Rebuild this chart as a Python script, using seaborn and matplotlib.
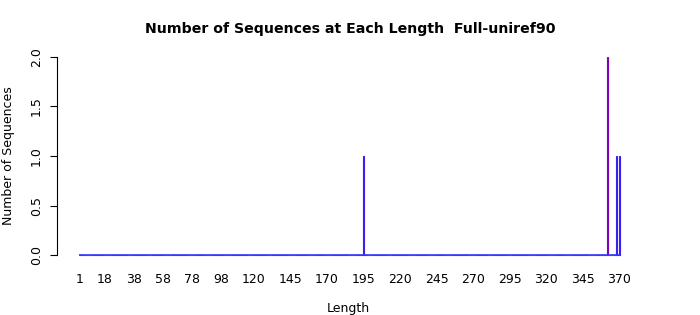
import matplotlib
matplotlib.use("Agg")
import matplotlib.pyplot as plt
import seaborn as sns
import pandas as pd

# ---- data ----
min_length = 1
max_length = 370
bar_lengths = [195, 362, 368, 370]
bar_counts = [1, 2, 1, 1]
tick_labels = [1, 18, 38, 58, 78, 98, 120, 145, 170, 195, 220, 245, 270, 295, 320, 345, 370]
title = "Number of Sequences at Each Length  Full-uniref90"

lengths = list(range(min_length, max_length + 1))
count_map = dict(zip(bar_lengths, bar_counts))
counts = [count_map.get(l, 0) for l in lengths]
df = pd.DataFrame({"Length": lengths, "Count": counts})
df["grp"] = df["Count"].map(lambda c: "two" if c >= 2 else "one")

sns.set_style("white")
plt.rcParams["font.family"] = ["DejaVu Sans"]
plt.rcParams["text.color"] = "black"
plt.rcParams["axes.labelcolor"] = "black"
plt.rcParams["xtick.color"] = "black"
plt.rcParams["ytick.color"] = "black"

fig = plt.figure(figsize=(7, 3.15), dpi=100)
ax = fig.add_axes([57 / 700, 52 / 315, (640 - 57) / 700, (266 - 52) / 315])

palette = {"one": "#3a1ff0", "two": "#8000b8"}
sns.barplot(data=df, x="Length", y="Count", hue="grp", palette=palette,
            native_scale=True, dodge=False, width=0.9, legend=False,
            linewidth=0.8, saturation=1, ax=ax)
for p in ax.patches:
    p.set_edgecolor(p.get_facecolor())
ax.hlines(0, min_length, max_length + 0.5, color="#3535ff", linewidth=1.2, zorder=3)

ax.set_xlim(-14.37, 384.0)
ax.set_ylim(-0.08, 2.08)

ax.set_xticks(tick_labels)
ax.set_xticklabels([str(t) for t in tick_labels], fontsize=9)
ax.tick_params(axis="x", length=0, pad=7, bottom=False)
ax.set_yticks([0, 0.5, 1.0, 1.5, 2.0])
ax.set_yticklabels(["0.0", "0.5", "1.0", "1.5", "2.0"], rotation=90, va="center", fontsize=9)
ax.tick_params(axis="y", left=True, length=5, width=0.8, pad=5, color="black")

for s in ["top", "right", "bottom"]:
    ax.spines[s].set_visible(False)
ax.spines["left"].set_bounds(0, 2)
ax.spines["left"].set_color("black")
ax.spines["left"].set_linewidth(0.8)

ax.set_xlabel("Length", fontsize=9, labelpad=12)
ax.set_ylabel("Number of Sequences", fontsize=9, labelpad=11)
fig.text(350 / 700, 1 - 29 / 315, title, ha="center", va="center",
         fontsize=10.2, fontweight="bold", color="black")

fig.savefig("out.png", dpi=100)
